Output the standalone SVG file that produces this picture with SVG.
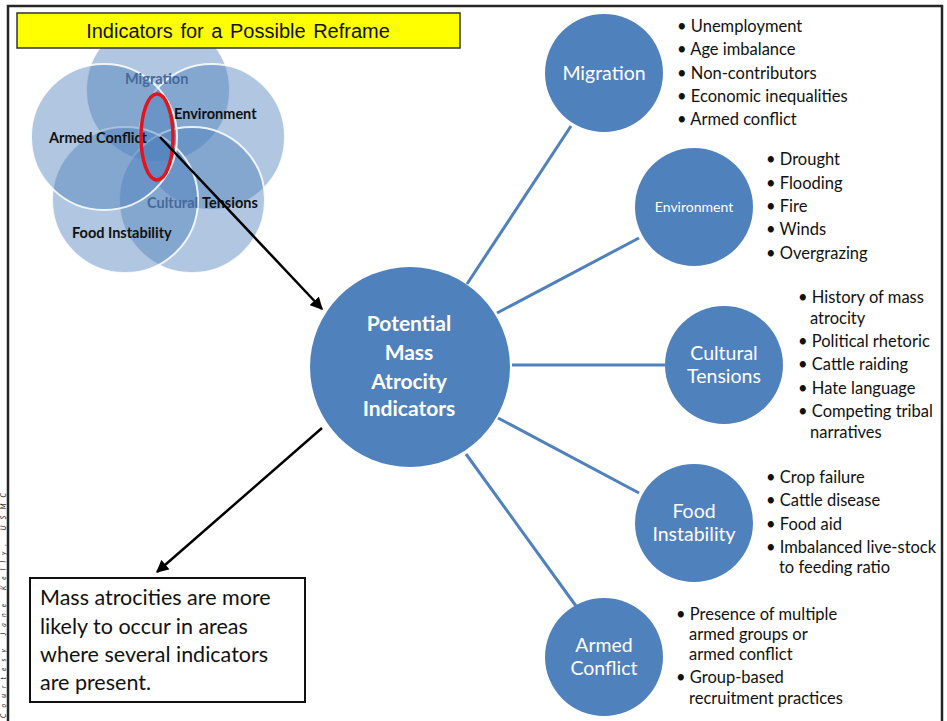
<svg xmlns="http://www.w3.org/2000/svg" width="947" height="721" viewBox="0 0 947 721">
<style>
.venn{fill:#4F81BD;fill-opacity:0.45;stroke:#fff;stroke-width:2;stroke-opacity:0.85}
.vlbl{font-family:Lato,"Liberation Sans",sans-serif;font-weight:bold;font-size:14.5px;fill:#111}
.vmut{font-family:Lato,"Liberation Sans",sans-serif;font-weight:bold;font-size:14.5px;fill:#48699a}
.node{fill:#4F81BD}
.ntxt{font-family:Lato,"Liberation Sans",sans-serif;font-size:19.5px;fill:#fff;text-anchor:middle}
.small{font-size:14px}
.btxt{font-family:Lato,"Liberation Sans",sans-serif;font-size:16.5px;fill:#111}
.conn{stroke:#4F81BD;stroke-width:3;fill:none}
.arr{stroke:#000;stroke-width:2.5;fill:none;marker-end:url(#ah)}
</style>
<defs>
<marker id="ah" viewBox="0 0 10 10" refX="9" refY="5" markerWidth="5" markerHeight="5" orient="auto" markerUnits="strokeWidth">
<path d="M0,0 L10,5 L0,10 z" fill="#000"/>
</marker>
</defs>
<rect width="947" height="721" fill="#fff"/>
<path d="M8,721 V6 H942 V721" fill="none" stroke="#262626" stroke-width="2.5"/>
<text transform="translate(6,718) rotate(-90)" font-family="Lato,'Liberation Sans',sans-serif" font-size="7" font-style="italic" fill="#222" textLength="225" lengthAdjust="spacing">Courtesy Jane Kelly, USMC</text>

<g id="venn">
<circle class="venn" cx="158" cy="90" r="72"/>
<circle class="venn" cx="212" cy="137" r="73"/>
<circle class="venn" cx="192" cy="200" r="73"/>
<circle class="venn" cx="125" cy="200" r="73"/>
<circle class="venn" cx="104" cy="137" r="73"/>
<text class="vmut" x="125" y="84">Migration</text>
<text class="vlbl" x="174" y="119">Environment</text>
<text class="vlbl" x="49" y="143">Armed Conflict</text>
<text class="vmut" x="147" y="208">Cultural</text>
<text class="vlbl" x="202" y="208">Tensions</text>
<text class="vlbl" x="72" y="238">Food Instability</text>
<ellipse cx="157" cy="137" rx="16" ry="43" fill="none" stroke="#e4141b" stroke-width="3.5"/>
</g>

<g id="title">
<rect x="17" y="13" width="443" height="35" fill="#ffff00" stroke="#333" stroke-width="1.5"/>
<text x="238" y="38" text-anchor="middle" font-family="'Liberation Sans',Arial,sans-serif" font-size="20" fill="#111" word-spacing="2">Indicators for a Possible Reframe</text>
</g>

<g id="connectors">
<line class="conn" x1="467" y1="284" x2="571" y2="126"/>
<line class="conn" x1="497" y1="313" x2="639" y2="238"/>
<line class="conn" x1="512" y1="365" x2="665" y2="365"/>
<line class="conn" x1="498" y1="418" x2="639" y2="493"/>
<line class="conn" x1="466" y1="454" x2="576" y2="606"/>
<line class="arr" x1="160" y1="137" x2="322" y2="309"/>
<line class="arr" x1="322" y1="428" x2="157" y2="572"/>
</g>

<g id="center">
<circle class="node" cx="410" cy="367" r="100"/>
<g font-family="Lato,'Liberation Sans',sans-serif" font-weight="bold" font-size="21" fill="#fff" text-anchor="middle">
<text x="409" y="331">Potential</text>
<text x="409" y="360">Mass</text>
<text x="409" y="389">Atrocity</text>
<text x="409" y="416">Indicators</text>
</g>
</g>

<g id="migration">
<circle class="node" cx="604" cy="73" r="59"/>
<text class="ntxt" x="604" y="80">Migration</text>
<g class="btxt">
<text x="677" y="32">• Unemployment</text>
<text x="677" y="55">• Age imbalance</text>
<text x="677" y="79">• Non-contributors</text>
<text x="677" y="102">• Economic inequalities</text>
<text x="677" y="125">• Armed conflict</text>
</g>
</g>

<g id="environment">
<circle class="node" cx="694" cy="207" r="59"/>
<text class="ntxt small" x="694" y="212">Environment</text>
<g class="btxt">
<text x="766" y="165">• Drought</text>
<text x="766" y="189">• Flooding</text>
<text x="766" y="212">• Fire</text>
<text x="766" y="235">• Winds</text>
<text x="766" y="259">• Overgrazing</text>
</g>
</g>

<g id="cultural">
<circle class="node" cx="724" cy="365" r="59"/>
<text class="ntxt" x="724" y="360">Cultural</text>
<text class="ntxt" x="724" y="383">Tensions</text>
<g class="btxt">
<text x="798" y="303">• History of mass</text>
<text x="810" y="324">atrocity</text>
<text x="798" y="347">• Political rhetoric</text>
<text x="798" y="370">• Cattle raiding</text>
<text x="798" y="394">• Hate language</text>
<text x="798" y="417">• Competing tribal</text>
<text x="810" y="438">narratives</text>
</g>
</g>

<g id="food">
<circle class="node" cx="694" cy="523" r="59"/>
<text class="ntxt" x="694" y="518">Food</text>
<text class="ntxt" x="694" y="541">Instability</text>
<g class="btxt">
<text x="766" y="483">• Crop failure</text>
<text x="766" y="506">• Cattle disease</text>
<text x="766" y="530">• Food aid</text>
<text x="766" y="553">• Imbalanced live-stock</text>
<text x="779" y="573">to feeding ratio</text>
</g>
</g>

<g id="armed">
<circle class="node" cx="604" cy="657" r="59"/>
<text class="ntxt" x="604" y="652">Armed</text>
<text class="ntxt" x="604" y="675">Conflict</text>
<g class="btxt">
<text x="676" y="620">• Presence of multiple</text>
<text x="689" y="640">armed groups or</text>
<text x="689" y="660">armed conflict</text>
<text x="676" y="683">• Group-based</text>
<text x="689" y="704">recruitment practices</text>
</g>
</g>

<g id="note">
<rect x="30" y="578" width="275" height="124" fill="#fff" stroke="#111" stroke-width="2"/>
<g font-family="Lato,'Liberation Sans',sans-serif" font-size="21.5" fill="#111">
<text x="40" y="605">Mass atrocities are more</text>
<text x="40" y="634">likely to occur in areas</text>
<text x="40" y="662">where several indicators</text>
<text x="40" y="690">are present.</text>
</g>
</g>
</svg>
